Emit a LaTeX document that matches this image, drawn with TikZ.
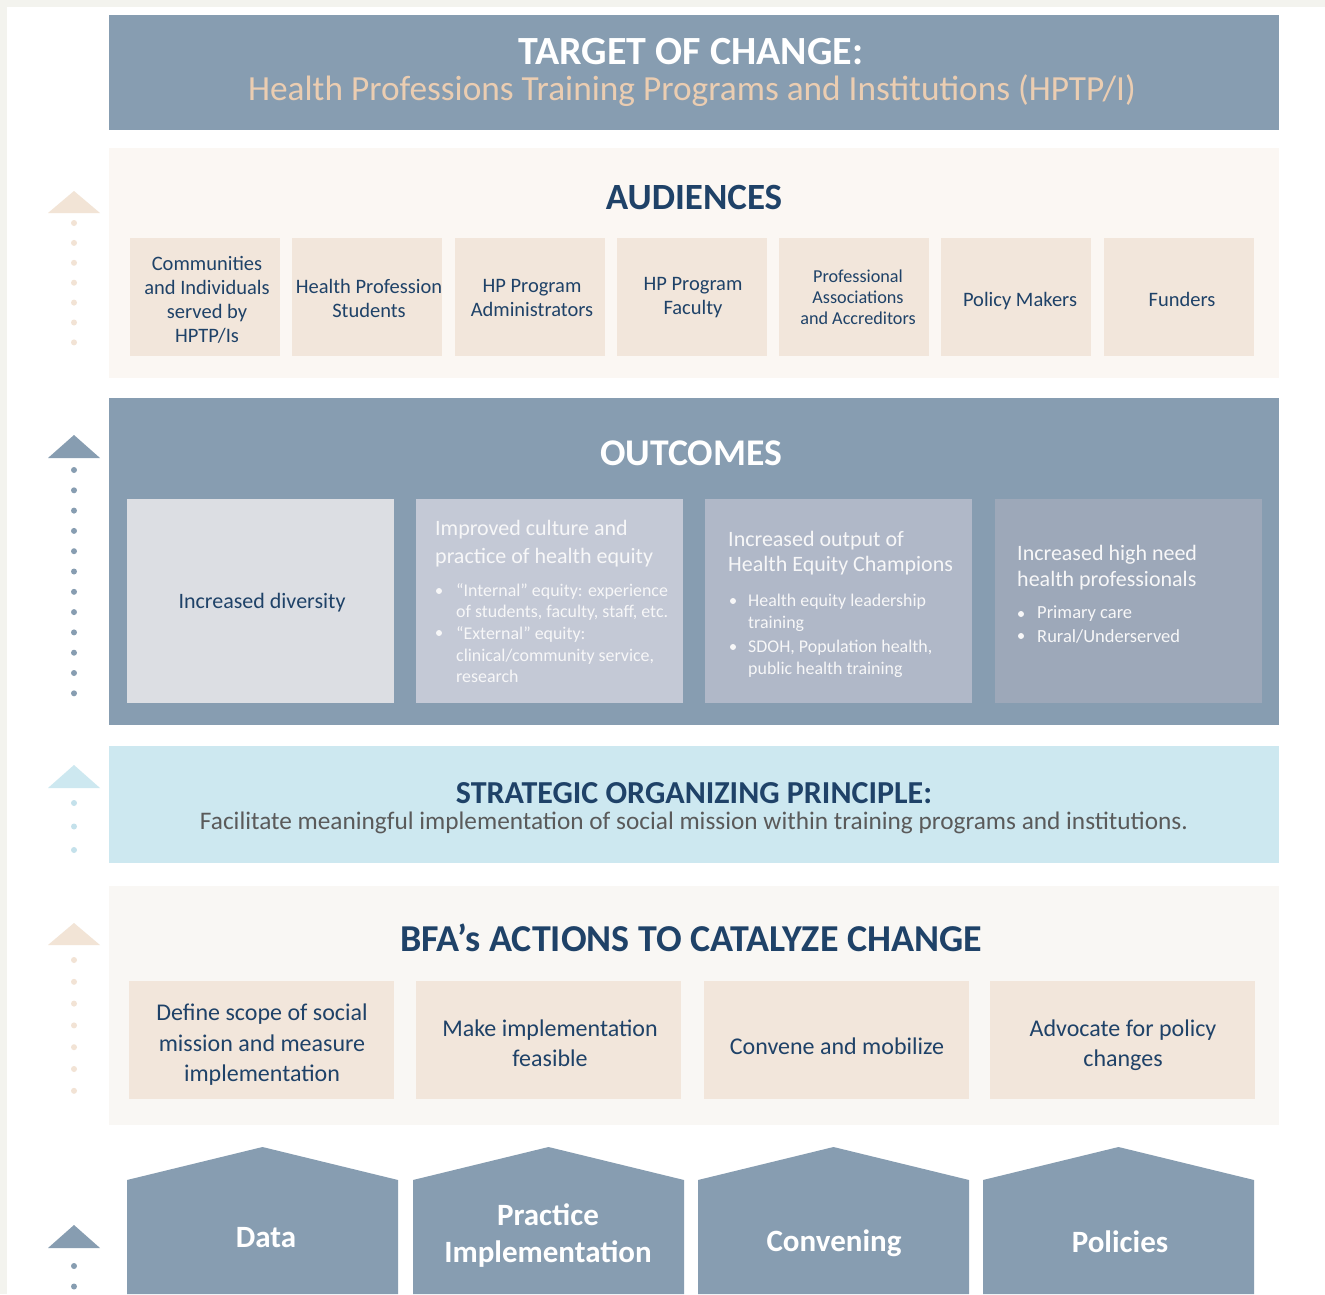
\documentclass[tikz,border=0pt]{standalone}
\usepackage{fontspec}
\setmainfont{Carlito}
\definecolor{outerbg}{HTML}{F3F3EE}
\definecolor{slate}{HTML}{879DB1}
\definecolor{lightpanel}{HTML}{FBF7F3}
\definecolor{bfapanel}{HTML}{F9F7F4}
\definecolor{tanbox}{HTML}{F2E6DB}
\definecolor{navy}{HTML}{1F4268}
\definecolor{tantext}{HTML}{EBCDB1}
\definecolor{skyblue}{HTML}{CDE8F0}
\definecolor{skydot}{HTML}{C4E1EB}
\definecolor{graytext}{HTML}{5A5A5A}
\definecolor{oboxa}{HTML}{DCDEE3}
\definecolor{oboxb}{HTML}{C4C9D6}
\definecolor{oboxc}{HTML}{B0B8C8}
\definecolor{oboxd}{HTML}{9DA8B9}
\definecolor{tanarrow}{HTML}{F2E4D6}
\definecolor{tandot}{HTML}{F2E3D5}
\definecolor{offwhite}{HTML}{F7F7F8}
\tikzset{
  panel/.style={inner sep=0pt, minimum width=1170},
  abox/.style={fill=tanbox, inner sep=0pt, minimum width=150, minimum height=118},
  atext/.style={text=navy, align=center, inner sep=0pt, font=\fontsize{20.5}{24}\selectfont},
  obox/.style={inner sep=0pt, minimum width=267, minimum height=204},
  otitle/.style={text=offwhite, align=left, anchor=west, inner sep=0pt},
  oitem/.style={text=offwhite, align=left, anchor=west, inner sep=0pt, font=\fontsize{17.9}{21.5}\selectfont},
  bdot/.style={circle, fill=offwhite, inner sep=0pt, minimum size=6},
  bbox/.style={fill=tanbox, inner sep=0pt, minimum width=265, minimum height=118},
  btext/.style={text=navy, align=center, inner sep=0pt, font=\fontsize{24}{30.5}\selectfont},
  bigtitle/.style={text=navy, inner sep=0pt, font=\fontsize{38}{42}\selectfont\bfseries},
  pillar/.style={fill=slate},
  ptext/.style={text=white, align=center, inner sep=0pt, font=\fontsize{31}{37}\selectfont\bfseries},
}
\begin{document}
\begin{tikzpicture}[x=1pt,y=-1pt]
\useasboundingbox (0,0) rectangle (1325,1294);
\fill[outerbg] (0,0) rectangle (1325,1294);
\fill[white] (7,7) rectangle (1325,1294);

% ---------- panels ----------
\node[panel, fill=slate, minimum height=115] (target) at (694,72.5) {};
\node[panel, fill=lightpanel, minimum height=230] (aud) at (694,263) {};
\node[panel, fill=slate, minimum height=327] (out) at (694,561.5) {};
\node[panel, fill=skyblue, minimum height=117] (strat) at (694,804.5) {};
\node[panel, fill=bfapanel, minimum height=239] (bfa) at (694,1005.5) {};

% ---------- target ----------
\node[text=white, inner sep=0pt, font=\fontsize{40}{44}\selectfont\bfseries] (tt) at (691,52) {TARGET OF CHANGE:};
\node[text=tantext, inner sep=0pt, font=\fontsize{35.3}{40}\selectfont] (ts) at (692,91) {Health Professions Training Programs and Institutions (HPTP/I)};

% ---------- audiences ----------
\node[bigtitle, font=\fontsize{37}{42}\selectfont\bfseries] (audt) at (694,197) {AUDIENCES};
\node[abox] (a1) at (205,297) {};
\node[abox] (a2) at (367,297) {};
\node[abox] (a3) at (530,297) {};
\node[abox] (a4) at (692,297) {};
\node[abox] (a5) at (854,297) {};
\node[abox] (a6) at (1016,297) {};
\node[abox] (a7) at (1179,297) {};
\node[atext] (a1t) at (207,300) {Communities\\and Individuals\\served by\\HPTP/Is};
\node[atext] (a2t) at (369,298) {Health Profession\\Students};
\node[atext] (a3t) at (532,298) {HP Program\\Administrators};
\node[atext] (a4t) at (693,298) {HP Program\\Faculty};
\node[atext, font=\fontsize{18.2}{21}\selectfont] (a5t) at (858,297) {Professional\\Associations\\and Accreditors};
\node[atext] (a6t) at (1020,301) {Policy Makers};
\node[atext] (a7t) at (1182,299) {Funders};

% ---------- outcomes ----------
\node[text=white, inner sep=0pt, font=\fontsize{37.7}{42}\selectfont\bfseries] (outt) at (691,453) {OUTCOMES};
\node[obox, fill=oboxa] (o1) at (260.5,601) {};
\node[obox, fill=oboxb] (o2) at (549.5,601) {};
\node[obox, fill=oboxc] (o3) at (838.5,601) {};
\node[obox, fill=oboxd] (o4) at (1128,601) {};
\node[text=navy, inner sep=0pt, font=\fontsize{22}{26}\selectfont] (o1t) at (262,603) {Increased diversity};

\node[otitle, font=\fontsize{22}{28}\selectfont] (o2t) at (435,544) {Improved culture and\\practice of health equity};
\node[bdot] (o2d1) at (439,591) {};
\node[oitem] (o2i1) at (456,602) {“Internal” equity: experience\\of students, faculty, staff, etc.};
\node[bdot] (o2d2) at (439,633) {};
\node[oitem] (o2i2) at (456,655) {“External” equity:\\clinical/community service,\\research};

\node[otitle, font=\fontsize{22}{25.5}\selectfont] (o3t) at (728,553) {Increased output of\\Health Equity Champions};
\node[bdot] (o3d1) at (733,601) {};
\node[oitem] (o3i1) at (748,613) {Health equity leadership\\training};
\node[bdot] (o3d2) at (733,647) {};
\node[oitem] (o3i2) at (748,659) {SDOH, Population health,\\public health training};

\node[otitle, font=\fontsize{22}{26}\selectfont] (o4t) at (1017,568) {Increased high need\\health professionals};
\node[bdot] (o4d1) at (1021,614) {};
\node[oitem, font=\fontsize{18.5}{22}\selectfont] (o4i1) at (1037,614) {Primary care};
\node[bdot] (o4d2) at (1021,636) {};
\node[oitem, font=\fontsize{18.5}{22}\selectfont] (o4i2) at (1037,636) {Rural/Underserved};

% ---------- strategic ----------
\node[text=navy, inner sep=0pt, font=\fontsize{32}{36}\selectfont\bfseries] (st) at (694,793) {STRATEGIC ORGANIZING PRINCIPLE:};
\node[text=graytext, inner sep=0pt, font=\fontsize{25.3}{29}\selectfont] (ss) at (694,823) {Facilitate meaningful implementation of social mission within training programs and institutions.};

% ---------- BFA actions ----------
\node[bigtitle] (bt) at (691,938) {BFA’s ACTIONS TO CATALYZE CHANGE};
\node[bbox] (b1) at (261.5,1040) {};
\node[bbox] (b2) at (548.5,1040) {};
\node[bbox] (b3) at (836,1040) {};
\node[bbox] (b4) at (1122.5,1040) {};
\node[btext] (b1t) at (262,1045) {Define scope of social\\mission and measure\\implementation};
\node[btext] (b2t) at (550,1043) {Make implementation\\feasible};
\node[btext] (b3t) at (837,1046) {Convene and mobilize};
\node[btext] (b4t) at (1123,1045) {Advocate for policy\\changes};

% ---------- pillars ----------
\fill[pillar] (127,1294) -- (127,1180) -- (262.5,1147) -- (398,1180) -- (398,1294) -- cycle;
\fill[pillar] (413,1294) -- (413,1180) -- (548.5,1147) -- (684,1180) -- (684,1294) -- cycle;
\fill[pillar] (698,1294) -- (698,1180) -- (833.5,1147) -- (969,1180) -- (969,1294) -- cycle;
\fill[pillar] (983,1294) -- (983,1180) -- (1118.5,1147) -- (1254,1180) -- (1254,1294) -- cycle;
\node[ptext] (p1) at (266,1238) {Data};
\node[ptext] (p2) at (548,1236) {Practice\\Implementation};
\node[ptext] (p3) at (834,1243) {Convening};
\node[ptext] (p4) at (1120,1242) {Policies};

% ---------- left arrows ----------
\fill[tanarrow] (48,213) -- (74,191) -- (100,213) -- cycle;
\foreach \k in {0,...,6} \fill[tandot] (74,{223+19.9*\k}) circle (3);
\fill[slate] (48,458) -- (74,435) -- (100,458) -- cycle;
\foreach \k in {0,...,11} \fill[slate] (74,{470+20.3*\k}) circle (3);
\fill[skyblue] (48,788) -- (74,765) -- (100,788) -- cycle;
\foreach \k in {0,...,2} \fill[skydot] (74,{803+23.5*\k}) circle (3);
\fill[tanarrow] (48,945) -- (74,923) -- (100,945) -- cycle;
\foreach \k in {0,...,6} \fill[tandot] (74,{960+21.8*\k}) circle (3);
\fill[slate] (48,1248) -- (74,1225) -- (100,1248) -- cycle;
\foreach \k in {0,...,1} \fill[slate] (74,{1266+20.5*\k}) circle (3);
\end{tikzpicture}
\end{document}
